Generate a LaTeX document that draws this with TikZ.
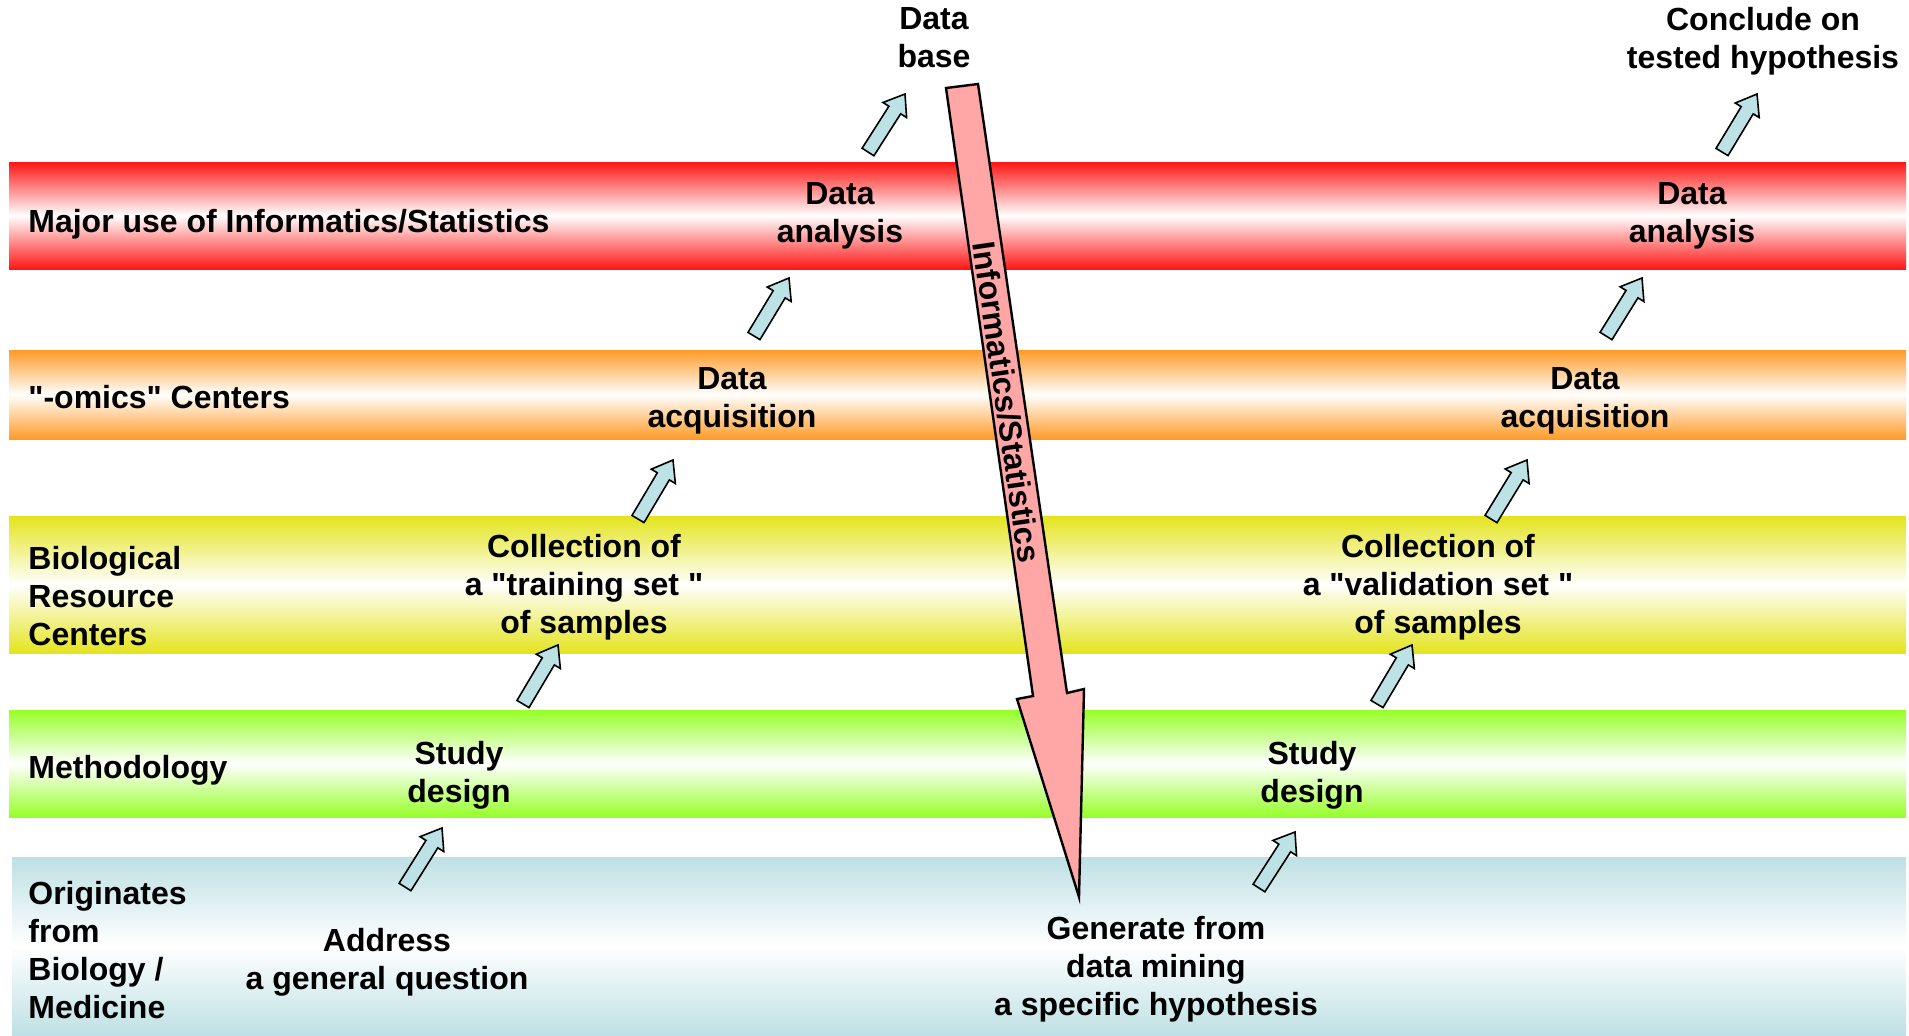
\documentclass[tikz,border=0pt]{standalone}
\usepackage{fontspec}
\setmainfont{Liberation Sans}[Ligatures=TeXOff]
\usetikzlibrary{calc}

\definecolor{bandred}{RGB}{255,22,22}
\definecolor{bandorange}{RGB}{255,155,40}
\definecolor{bandyellow}{RGB}{228,228,30}
\definecolor{bandgreen}{RGB}{150,255,40}
\definecolor{bandblue}{RGB}{190,224,228}
\definecolor{bigpink}{RGB}{255,166,166}
\definecolor{stepblue}{RGB}{188,226,230}

% block arrow from tail coordinate #1 to tip coordinate #2
\newcommand\flowarrow[2]{%
  \coordinate (#1-n) at ($(#2)!9.5pt!(#1)$);
  \filldraw[smallarrow]
    ($(#1)!3.5pt!90:(#2)$) -- ($(#1-n)!3.5pt!90:(#2)$) --
    ($(#1-n)!7pt!90:(#2)$) -- (#2) --
    ($(#1-n)!7pt!-90:(#2)$) -- ($(#1-n)!3.5pt!-90:(#2)$) --
    ($(#1)!3.5pt!-90:(#2)$) -- cycle;
}

\begin{document}
\begin{tikzpicture}[x=0.5pt,y=-0.5pt,
  lbl/.style={font=\fontsize{16}{19}\selectfont\bfseries, align=center, inner sep=0pt, anchor=north},
  bandlbl/.style={font=\fontsize{16}{19}\selectfont\bfseries, align=left, inner sep=0pt},
  smallarrow/.style={fill=stepblue, draw=black, line width=0.8pt, line join=miter},
  bigarrow/.style={fill=bigpink, draw=black, line width=1.2pt, line join=miter},
  band/.style={top color=#1, bottom color=#1, middle color=white}]
\useasboundingbox (0,0) rectangle (1909,1035);

% horizontal bands
\shade[band=bandred]    (9,162) rectangle (1906,269);
\shade[band=bandorange] (9,350) rectangle (1906,439);
\shade[band=bandyellow] (9,516) rectangle (1906,653);
\shade[band=bandgreen]  (9,710) rectangle (1906,817);
\shade[band=bandblue]   (12,857) rectangle (1906,1035);

% long informatics arrow
\coordinate (ba1) at (946,88);
\coordinate (ba2) at (978,84);
\coordinate (ba3) at (1067,693);
\coordinate (ba4) at (1084,689);
\coordinate (ba5) at (1079,897);
\coordinate (ba6) at (1017,699);
\coordinate (ba7) at (1033,696);
\filldraw[bigarrow] (ba1) -- (ba2) -- (ba3) -- (ba4) -- (ba5) -- (ba6) -- (ba7) -- cycle;
\node[font=\fontsize{16}{19}\selectfont\bfseries, inner sep=0pt, rotate=-81.76] (infostat) at (1007,402) {Informatics/Statistics};

% band titles
\node[bandlbl, anchor=base west] (major) at (28,232) {Major use of Informatics/Statistics};
\node[bandlbl, anchor=base west] (omics) at (28,408) {"-omics" Centers};
\node[bandlbl, anchor=north west] (brc) at (28,546) {Biological\\Resource\\Centers};
\node[bandlbl, anchor=base west] (method) at (28,778) {Methodology};
\node[bandlbl, anchor=north west] (origin) at (28,881) {Originates\\from\\Biology /\\Medicine};

% left workflow
\node[lbl] (addr) at (387,928) {Address\\a general question};
\node[lbl] (sd1) at (459,741) {Study\\design};
\node[lbl] (coll1) at (584,534) {Collection of\\a "training set "\\of samples};
\node[lbl] (dq1) at (732,367) {Data\\acquisition};
\node[lbl] (da1) at (840,182) {Data\\analysis};
\node[lbl] (db) at (934,7) {Data\\base};

% right workflow
\node[lbl] (gen) at (1156,916) {Generate from\\data mining\\a specific hypothesis};
\node[lbl] (sd2) at (1312,741) {Study\\design};
\node[lbl] (coll2) at (1438,534) {Collection of\\a "validation set "\\of samples};
\node[lbl] (dq2) at (1585,367) {Data\\acquisition};
\node[lbl] (da2) at (1692,182) {Data\\analysis};
\node[lbl] (concl) at (1763,7) {Conclude on\\tested hypothesis};

% step arrows
\coordinate (a1t) at (405,887);  \coordinate (a1h) at (442,828);
\coordinate (a2t) at (523,704);  \coordinate (a2h) at (558,645);
\coordinate (a3t) at (638,519);  \coordinate (a3h) at (673,460);
\coordinate (a4t) at (754,336);  \coordinate (a4h) at (789,278);
\coordinate (a5t) at (868,152);  \coordinate (a5h) at (905,94);
\coordinate (b1t) at (1259,888); \coordinate (b1h) at (1295,832);
\coordinate (b2t) at (1377,704); \coordinate (b2h) at (1412,645);
\coordinate (b3t) at (1491,519); \coordinate (b3h) at (1527,460);
\coordinate (b4t) at (1606,336); \coordinate (b4h) at (1642,278);
\coordinate (b5t) at (1722,152); \coordinate (b5h) at (1757,94);
\flowarrow{a1t}{a1h}
\flowarrow{a2t}{a2h}
\flowarrow{a3t}{a3h}
\flowarrow{a4t}{a4h}
\flowarrow{a5t}{a5h}
\flowarrow{b1t}{b1h}
\flowarrow{b2t}{b2h}
\flowarrow{b3t}{b3h}
\flowarrow{b4t}{b4h}
\flowarrow{b5t}{b5h}
\end{tikzpicture}
\end{document}
